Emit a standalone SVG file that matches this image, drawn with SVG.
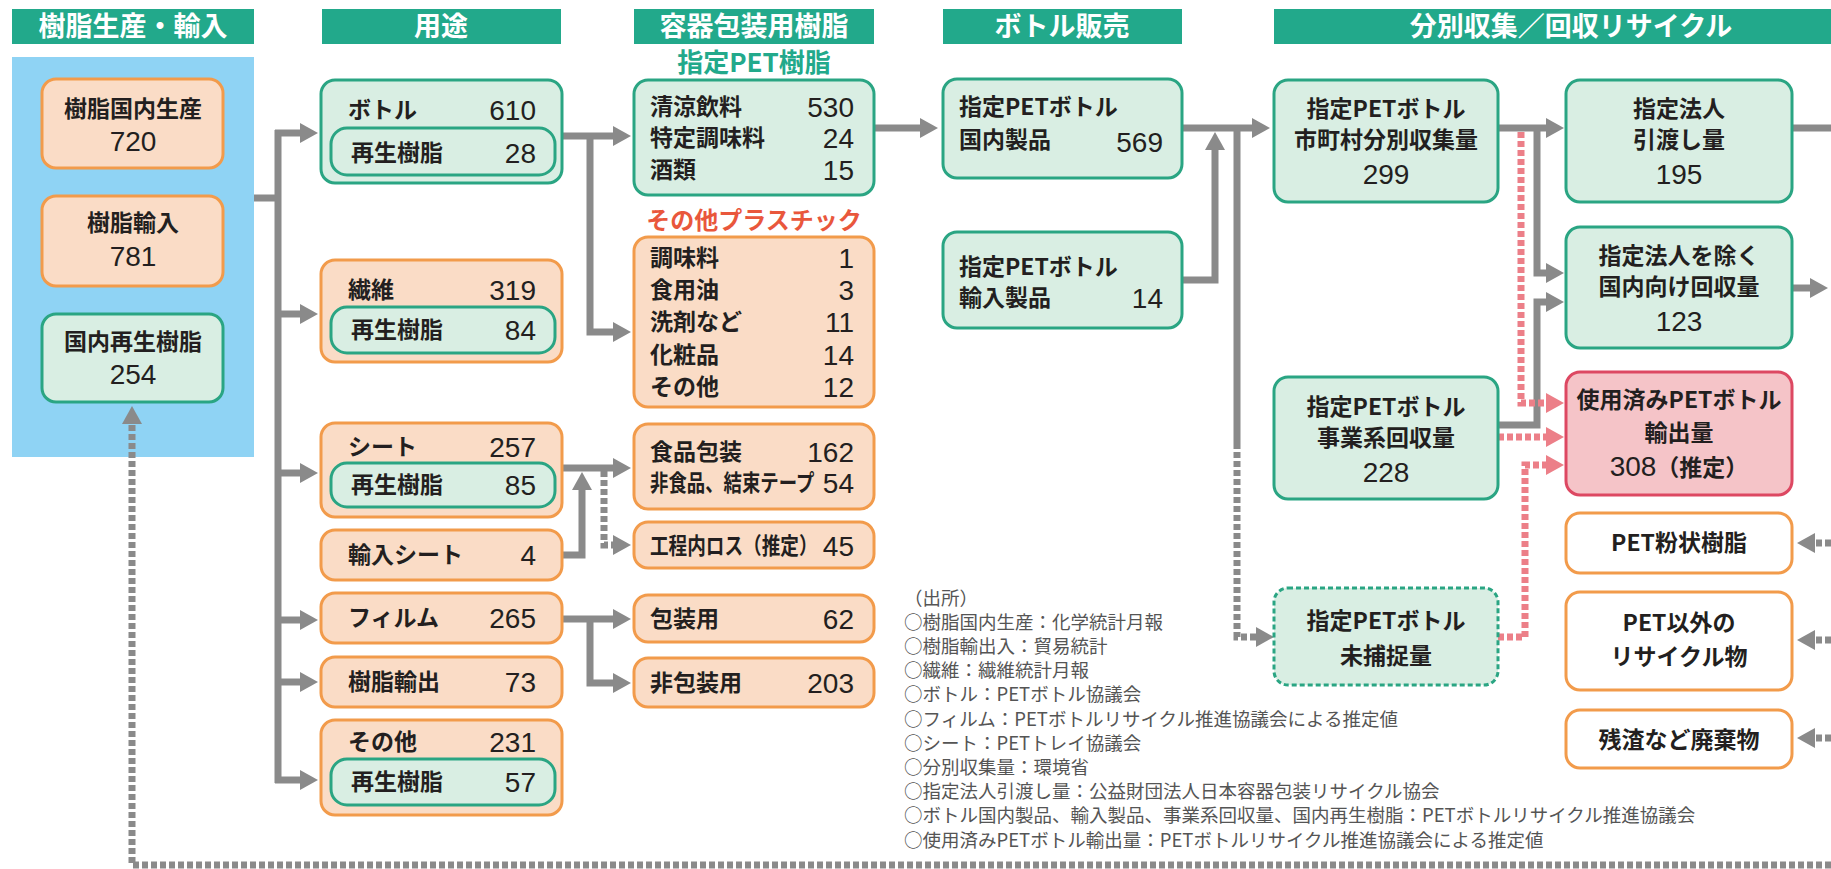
<svg xmlns="http://www.w3.org/2000/svg" width="1831" height="869" viewBox="0 0 1831 869">
<style>
.hd{fill:#22a98b}
.ht{font-family:"Noto Sans CJK JP",sans-serif;font-weight:bold;font-size:27px;fill:#fff;text-anchor:middle}
.g{fill:#d9eee3;stroke:#2aa583;stroke-width:3}
.o{fill:#fadcc6;stroke:#f29b4b;stroke-width:3}
.w{fill:#fff;stroke:#f29b4b;stroke-width:3}
.r{fill:#f5c4c8;stroke:#dd4862;stroke-width:3}
.gd{fill:#d9eee3;stroke:#2aa583;stroke-width:3;stroke-dasharray:5 3}
.t{font-family:"Noto Sans CJK JP",sans-serif;font-size:23px;font-weight:bold;fill:#231f20}
.n{font-family:"Liberation Sans",Arial,sans-serif;font-size:28px;fill:#231f20}
.c{text-anchor:middle}
.e{text-anchor:end}
.ln{fill:none;stroke:#8a8a8a;stroke-width:7}
.dl{fill:none;stroke:#8a8a8a;stroke-width:7;stroke-dasharray:6 3}
.rl{fill:none;stroke:#ec7f88;stroke-width:7;stroke-dasharray:6 3}
.src{font-family:"Noto Sans CJK JP",sans-serif;font-size:18.5px;fill:#555}
</style>
<defs>
<marker id="ah" markerUnits="userSpaceOnUse" markerWidth="18" markerHeight="20" viewBox="0 0 18 20" refX="0" refY="10" orient="auto"><path d="M0,0 L18,10 L0,20 z" fill="#8a8a8a"/></marker>
<marker id="ar" markerUnits="userSpaceOnUse" markerWidth="18" markerHeight="20" viewBox="0 0 18 20" refX="0" refY="10" orient="auto"><path d="M0,0 L18,10 L0,20 z" fill="#ec7f88"/></marker>
</defs>

<g id="headers">
<rect class="hd" x="12" y="9" width="242" height="35"/><text class="ht" x="133" y="36">樹脂生産・輸入</text>
<rect class="hd" x="322" y="9" width="239" height="35"/><text class="ht" x="441" y="36">用途</text>
<rect class="hd" x="634" y="9" width="240" height="35"/><text class="ht" x="754" y="36">容器包装用樹脂</text>
<rect class="hd" x="943" y="9" width="239" height="35"/><text class="ht" x="1062" y="36">ボトル販売</text>
<rect class="hd" x="1274" y="9" width="557" height="35"/><text class="ht" x="1571" y="36">分別収集／回収リサイクル</text>
</g>

<g id="panel"><rect x="12" y="57" width="242" height="400" fill="#8fd3f4"/></g>

<g id="connectors">
<path class="ln" d="M254,198 H278 M278,130 V783"/>
<path class="ln" d="M275,133 H300" marker-end="url(#ah)"/>
<path class="ln" d="M275,314 H300" marker-end="url(#ah)"/>
<path class="ln" d="M275,473 H300" marker-end="url(#ah)"/>
<path class="ln" d="M275,620 H300" marker-end="url(#ah)"/>
<path class="ln" d="M275,682 H300" marker-end="url(#ah)"/>
<path class="ln" d="M275,780 H300" marker-end="url(#ah)"/>
<path class="ln" d="M562,136 H613" marker-end="url(#ah)"/>
<path class="ln" d="M590,136 V332 H613" marker-end="url(#ah)"/>
<path class="ln" d="M562,468 H613" marker-end="url(#ah)"/>
<path class="ln" d="M562,555 H582 V490" marker-end="url(#ah)"/>
<path class="dl" d="M604,471 V545 H613" marker-end="url(#ah)"/>
<path class="ln" d="M562,619 H613" marker-end="url(#ah)"/>
<path class="ln" d="M590,619 V683 H613" marker-end="url(#ah)"/>
<path class="ln" d="M874,128 H920" marker-end="url(#ah)"/>
<path class="ln" d="M1183,128 H1252" marker-end="url(#ah)"/>
<path class="ln" d="M1183,280 H1215 V150" marker-end="url(#ah)"/>
<path class="ln" d="M1237,125 V443"/>
<path class="dl" d="M1237,443 V637 H1256" marker-end="url(#ah)"/>
<path class="ln" d="M1498,128 H1546" marker-end="url(#ah)"/>
<path class="ln" d="M1537,128 V273 H1546" marker-end="url(#ah)"/>
<path class="ln" d="M1498,425 H1537 V302 H1546" marker-end="url(#ah)"/>
<path class="rl" d="M1521,132 V403 H1546" marker-end="url(#ar)"/>
<path class="rl" d="M1498,437 H1546" marker-end="url(#ar)"/>
<path class="rl" d="M1498,637 H1525 V465 H1546" marker-end="url(#ar)"/>
<path class="ln" d="M1792,128 H1831"/>
<path class="ln" d="M1792,288 H1810" marker-end="url(#ah)"/>
<path class="dl" d="M1831,543 H1815" marker-end="url(#ah)"/>
<path class="dl" d="M1831,640 H1815" marker-end="url(#ah)"/>
<path class="dl" d="M1831,738 H1815" marker-end="url(#ah)"/>
<path class="dl" d="M1831,865 H132 V424" marker-end="url(#ah)"/>
</g>

<g id="n-domestic"><rect class="o" x="42" y="79" width="181" height="89" rx="14"/><text class="t c" x="133" y="117">樹脂国内生産</text><text class="n c" x="133" y="151">720</text></g>
<g id="n-import"><rect class="o" x="42" y="196" width="181" height="90" rx="14"/><text class="t c" x="133" y="231">樹脂輸入</text><text class="n c" x="133" y="266">781</text></g>
<g id="n-recycled"><rect class="g" x="42" y="314" width="181" height="88" rx="14"/><text class="t c" x="133" y="350">国内再生樹脂</text><text class="n c" x="133" y="384">254</text></g>

<g id="u-bottle"><rect class="g" x="321" y="80" width="241" height="103" rx="14"/><rect class="g" x="331" y="128" width="224" height="47" rx="16"/><text class="t" x="348" y="118">ボトル</text><text class="n e" x="536" y="120">610</text><text class="t" x="351" y="161">再生樹脂</text><text class="n e" x="536" y="163">28</text></g>
<g id="u-fiber"><rect class="o" x="321" y="260" width="241" height="102" rx="14"/><rect class="g" x="331" y="307" width="224" height="46" rx="16"/><text class="t" x="348" y="298">繊維</text><text class="n e" x="536" y="300">319</text><text class="t" x="351" y="338">再生樹脂</text><text class="n e" x="536" y="340">84</text></g>
<g id="u-sheet"><rect class="o" x="321" y="423" width="241" height="94" rx="14"/><rect class="g" x="331" y="463" width="224" height="44" rx="16"/><text class="t" x="348" y="455">シート</text><text class="n e" x="536" y="457">257</text><text class="t" x="351" y="493">再生樹脂</text><text class="n e" x="536" y="495">85</text></g>
<g id="u-impsheet"><rect class="o" x="321" y="530" width="241" height="50" rx="14"/><text class="t" x="348" y="563">輸入シート</text><text class="n e" x="536" y="565">4</text></g>
<g id="u-film"><rect class="o" x="321" y="593" width="241" height="50" rx="14"/><text class="t" x="348" y="626">フィルム</text><text class="n e" x="536" y="628">265</text></g>
<g id="u-export"><rect class="o" x="321" y="657" width="241" height="50" rx="14"/><text class="t" x="348" y="690">樹脂輸出</text><text class="n e" x="536" y="692">73</text></g>
<g id="u-other"><rect class="o" x="321" y="720" width="241" height="95" rx="14"/><rect class="g" x="331" y="759" width="224" height="46" rx="16"/><text class="t" x="348" y="750">その他</text><text class="n e" x="536" y="752">231</text><text class="t" x="351" y="790">再生樹脂</text><text class="n e" x="536" y="792">57</text></g>

<g id="lbl-pet"><text x="754" y="72" font-family="Noto Sans CJK JP, sans-serif" font-size="26" font-weight="bold" fill="#22a98b" text-anchor="middle">指定PET樹脂</text></g>
<g id="c-pet"><rect class="g" x="634" y="80" width="240" height="115" rx="14"/>
<text class="t" x="650" y="115">清涼飲料</text><text class="n e" x="854" y="117">530</text>
<text class="t" x="650" y="146">特定調味料</text><text class="n e" x="854" y="148">24</text>
<text class="t" x="650" y="178">酒類</text><text class="n e" x="854" y="180">15</text></g>
<g id="lbl-other"><text x="754" y="229" font-family="Noto Sans CJK JP, sans-serif" font-size="24" font-weight="bold" fill="#e9573c" text-anchor="middle">その他プラスチック</text></g>
<g id="c-other"><rect class="o" x="634" y="237" width="240" height="170" rx="14"/>
<text class="t" x="650" y="266">調味料</text><text class="n e" x="854" y="268">1</text>
<text class="t" x="650" y="298">食用油</text><text class="n e" x="854" y="300">3</text>
<text class="t" x="650" y="330">洗剤など</text><text class="n e" x="854" y="332">11</text>
<text class="t" x="650" y="363">化粧品</text><text class="n e" x="854" y="365">14</text>
<text class="t" x="650" y="395">その他</text><text class="n e" x="854" y="397">12</text></g>
<g id="c-food"><rect class="o" x="634" y="424" width="240" height="85" rx="14"/>
<text class="t" x="650" y="460">食品包装</text><text class="n e" x="854" y="462">162</text>
<text class="t" transform="translate(650,491) scale(0.8,1)">非食品、結束テープ</text><text class="n e" x="854" y="493">54</text></g>
<g id="c-loss"><rect class="o" x="634" y="522" width="240" height="46" rx="14"/><text class="t" transform="translate(650,554) scale(0.81,1)">工程内ロス（推定）</text><text class="n e" x="854" y="556">45</text></g>
<g id="c-pack"><rect class="o" x="634" y="595" width="240" height="47" rx="14"/><text class="t" x="650" y="627">包装用</text><text class="n e" x="854" y="629">62</text></g>
<g id="c-nonpack"><rect class="o" x="634" y="658" width="240" height="49" rx="14"/><text class="t" x="650" y="691">非包装用</text><text class="n e" x="854" y="693">203</text></g>

<g id="b-domestic"><rect class="g" x="943" y="79" width="239" height="99" rx="14"/><text class="t" x="959" y="115">指定PETボトル</text><text class="t" x="959" y="148">国内製品</text><text class="n e" x="1163" y="152">569</text></g>
<g id="b-import"><rect class="g" x="943" y="232" width="239" height="96" rx="14"/><text class="t" x="959" y="275">指定PETボトル</text><text class="t" x="959" y="306">輸入製品</text><text class="n e" x="1163" y="308">14</text></g>

<g id="r-municipal"><rect class="g" x="1274" y="80" width="224" height="122" rx="14"/><text class="t c" x="1386" y="117">指定PETボトル</text><text class="t c" x="1386" y="148">市町村分別収集量</text><text class="n c" x="1386" y="184">299</text></g>
<g id="r-business"><rect class="g" x="1274" y="377" width="224" height="122" rx="14"/><text class="t c" x="1386" y="415">指定PETボトル</text><text class="t c" x="1386" y="446">事業系回収量</text><text class="n c" x="1386" y="482">228</text></g>
<g id="r-uncaptured"><rect class="gd" x="1274" y="588" width="224" height="97" rx="14"/><text class="t c" x="1386" y="629">指定PETボトル</text><text class="t c" x="1386" y="664">未捕捉量</text></g>

<g id="s-designated"><rect class="g" x="1566" y="80" width="226" height="122" rx="14"/><text class="t c" x="1679" y="117">指定法人</text><text class="t c" x="1679" y="148">引渡し量</text><text class="n c" x="1679" y="184">195</text></g>
<g id="s-domestic"><rect class="g" x="1566" y="227" width="226" height="121" rx="14"/><text class="t c" x="1679" y="264">指定法人を除く</text><text class="t c" x="1679" y="295">国内向け回収量</text><text class="n c" x="1679" y="331">123</text></g>
<g id="s-export"><rect class="r" x="1566" y="372" width="226" height="123" rx="14"/><text class="t c" x="1679" y="408">使用済みPETボトル</text><text class="t c" x="1679" y="441">輸出量</text><text class="c" x="1679" y="476"><tspan class="n">308</tspan><tspan class="t">（推定）</tspan></text></g>
<g id="s-powder"><rect class="w" x="1566" y="513" width="226" height="60" rx="14"/><text class="t c" x="1679" y="551">PET粉状樹脂</text></g>
<g id="s-nonpet"><rect class="w" x="1566" y="592" width="226" height="98" rx="14"/><text class="t c" x="1679" y="631">PET以外の</text><text class="t c" x="1679" y="665">リサイクル物</text></g>
<g id="s-waste"><rect class="w" x="1566" y="710" width="226" height="58" rx="14"/><text class="t c" x="1679" y="748">残渣など廃棄物</text></g>

<g id="sources" class="src">
<text x="904" y="605">（出所）</text>
<text x="904" y="629">○樹脂国内生産：化学統計月報</text>
<text x="904" y="653">○樹脂輸出入：貿易統計</text>
<text x="904" y="677">○繊維：繊維統計月報</text>
<text x="904" y="701">○ボトル：PETボトル協議会</text>
<text x="904" y="726">○フィルム：PETボトルリサイクル推進協議会による推定値</text>
<text x="904" y="750">○シート：PETトレイ協議会</text>
<text x="904" y="774">○分別収集量：環境省</text>
<text x="904" y="798">○指定法人引渡し量：公益財団法人日本容器包装リサイクル協会</text>
<text x="904" y="822">○ボトル国内製品、輸入製品、事業系回収量、国内再生樹脂：PETボトルリサイクル推進協議会</text>
<text x="904" y="847">○使用済みPETボトル輸出量：PETボトルリサイクル推進協議会による推定値</text>
</g>
</svg>
